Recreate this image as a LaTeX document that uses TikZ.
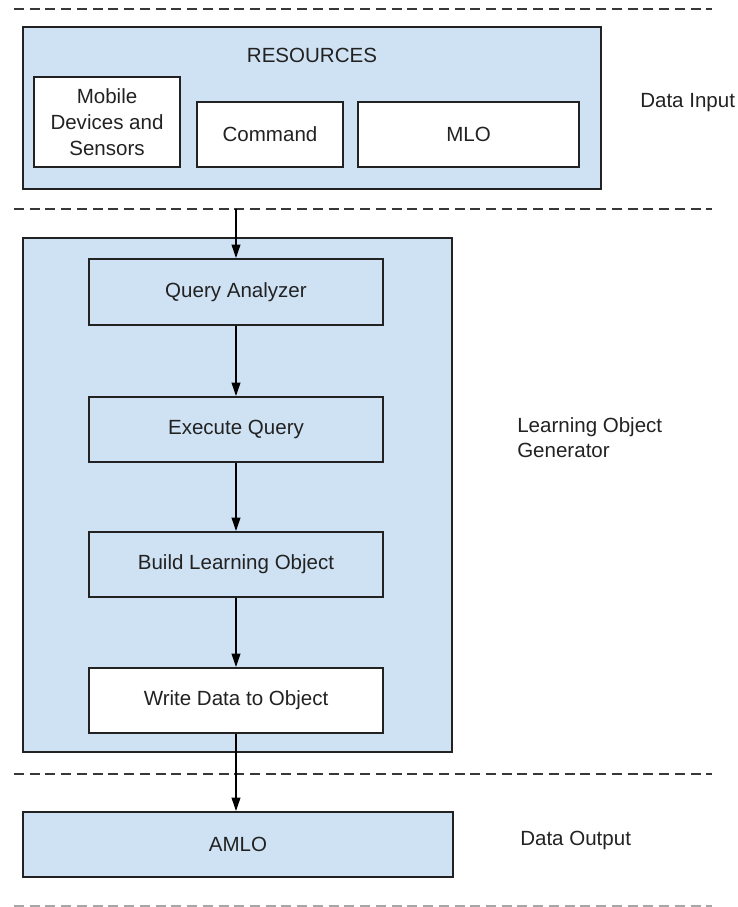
\documentclass[tikz,border=0pt]{standalone}
\usepackage{fontspec}
\setmainfont{Liberation Sans}
\usetikzlibrary{arrows.meta}
\definecolor{panelblue}{HTML}{CFE2F3}
\definecolor{inkdark}{HTML}{222222}
\tikzset{
  box/.style={draw=inkdark, line width=1.4pt, rectangle, inner sep=0pt,
              text=inkdark, font=\fontsize{15.4}{19.5}\selectfont, align=center},
  bluebox/.style={box, fill=panelblue},
  whitebox/.style={box, fill=white},
  label/.style={text=inkdark, font=\fontsize{15.4}{18.75}\selectfont, inner sep=0pt},
  divider/.style={draw=inkdark!90, line width=1.5pt, dash pattern=on 7.5pt off 4.3pt},
  flow/.style={draw=black, line width=1.1pt, -{Triangle[length=10pt,width=6.5pt]}}
}
\begin{document}
\begin{tikzpicture}[x=0.75pt, y=-0.75pt]
  \useasboundingbox (0,0) rectangle (738,907);

  % layer dividers
  \draw[divider] (14,9) -- (712,9);
  \draw[divider] (14,209) -- (712,209);
  \draw[divider] (14,774) -- (712,774);
  \draw[divider, draw=gray!70] (14,906) -- (712,906);

  % data input layer
  \node[bluebox, minimum width=578*0.75pt, minimum height=162*0.75pt] (res) at (312,108) {};
  \node[label] (restitle) at (312,55) {RESOURCES};
  \node[whitebox, minimum width=146*0.75pt, minimum height=90*0.75pt] (mobile) at (107,122)
    {Mobile\\Devices and\\Sensors};
  \node[whitebox, minimum width=146*0.75pt, minimum height=65*0.75pt] (command) at (270,134.5) {Command};
  \node[whitebox, minimum width=221*0.75pt, minimum height=65*0.75pt] (mlo) at (468.5,134.5) {MLO};
  \node[label, anchor=west] (inlabel) at (640,103) {Data Input};

  % learning object generator
  \node[bluebox, minimum width=429*0.75pt, minimum height=514*0.75pt] (gen) at (237.5,495) {};
  \node[bluebox, minimum width=294*0.75pt, minimum height=66*0.75pt] (query) at (236,292) {Query Analyzer};
  \node[bluebox, minimum width=294*0.75pt, minimum height=65*0.75pt] (exec) at (236,429.5) {Execute Query};
  \node[bluebox, minimum width=294*0.75pt, minimum height=65*0.75pt] (build) at (236,564.5) {Build Learning Object};
  \node[whitebox, minimum width=294*0.75pt, minimum height=65*0.75pt] (write) at (236,700.5) {Write Data to Object};
  \node[label, anchor=west, align=left] (genlabel) at (517,438) {Learning Object\\Generator};

  % data output layer
  \node[bluebox, minimum width=430*0.75pt, minimum height=65*0.75pt] (amlo) at (238,844.5) {AMLO};
  \node[label, anchor=west] (outlabel) at (520,840) {Data Output};

  % flow
  \coordinate (entry) at (236,209);
  \draw[flow] (entry) -- (query.north);
  \draw[flow] (query.south) -- (exec.north);
  \draw[flow] (exec.south) -- (build.north);
  \draw[flow] (build.south) -- (write.north);
  \draw[flow] (write.south) -- (write.south |- amlo.north);
\end{tikzpicture}
\end{document}
